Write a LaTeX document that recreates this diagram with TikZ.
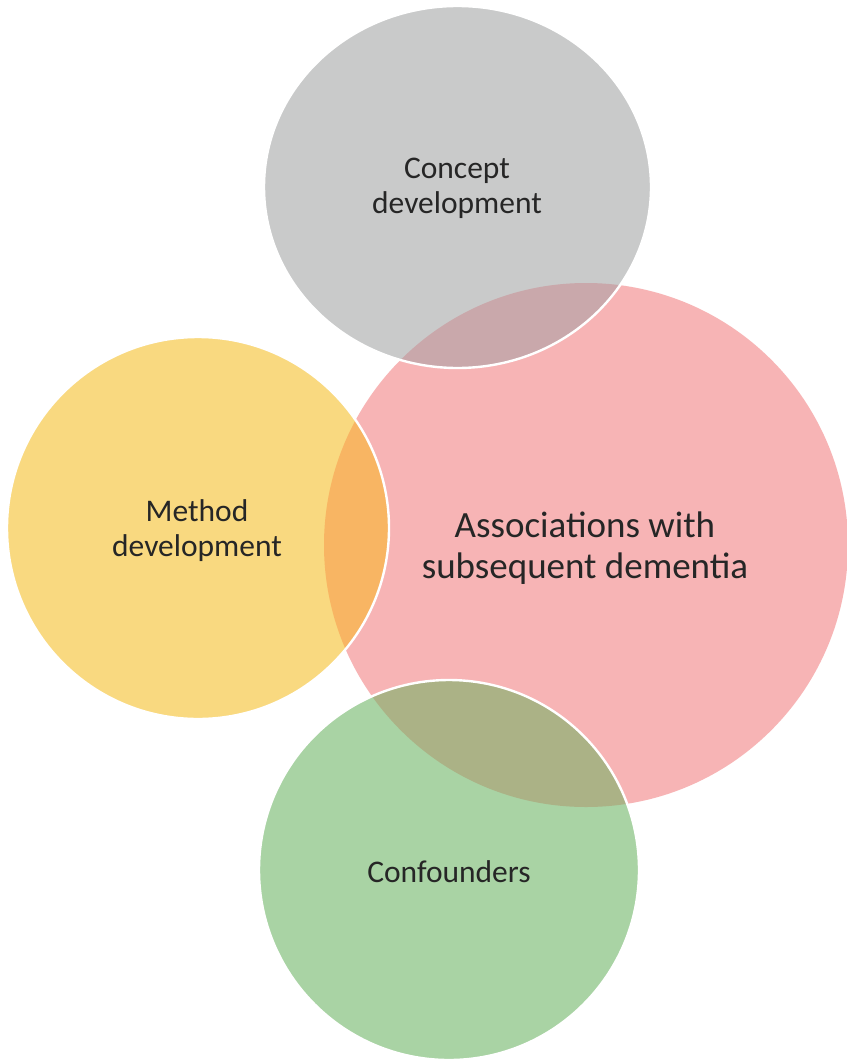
\documentclass[tikz,border=0pt]{standalone}
\usepackage{fontspec}
\setmainfont{Carlito}
\definecolor{cgray}{HTML}{C9CACA}
\definecolor{cpink}{HTML}{F7B4B5}
\definecolor{cyellow}{HTML}{F9D980}
\definecolor{cgreen}{HTML}{A9D3A4}
\definecolor{cgraypink}{HTML}{C9A8AB}
\definecolor{cyellowpink}{HTML}{F8B563}
\definecolor{cgreenpink}{HTML}{ABB286}
\definecolor{ctext}{HTML}{262626}
\begin{document}
\begin{tikzpicture}[x=1pt,y=-1pt,
  rim/.style={draw=white,line width=2.4pt},
  small/.style={text=ctext,align=center,font=\fontsize{31.5}{35.5}\selectfont},
  large/.style={text=ctext,align=center,font=\fontsize{37}{40.5}\selectfont}]
\useasboundingbox[fill=white] (0,0) rectangle (846,1062);
% shapes
\def\pinkpath{(586,545) circle[radius=262]}
\def\graypath{(457.5,187) ellipse[x radius=193.5,y radius=181]}
\def\yellowpath{(198,528) circle[radius=191]}
\def\greenpath{(449,870) circle[radius=190]}
\fill[cpink] \pinkpath;
\fill[cgray] \graypath;
\fill[cyellow] \yellowpath;
\fill[cgreen] \greenpath;
% overlaps with the central circle
\begin{scope}
  \clip \pinkpath;
  \fill[cgraypink] \graypath;
  \fill[cyellowpink] \yellowpath;
  \fill[cgreenpink] \greenpath;
\end{scope}
\draw[rim] \graypath;
\draw[rim] \yellowpath;
\draw[rim] \greenpath;
% labels
\node[small] (concept) at (457,188.5) {Concept\\development};
\node[small] (method) at (197,530.5) {Method\\development};
\node[large] (assoc) at (585,548) {Associations with\\subsequent dementia};
\node[small] (conf) at (449,872) {Confounders};
\end{tikzpicture}
\end{document}
